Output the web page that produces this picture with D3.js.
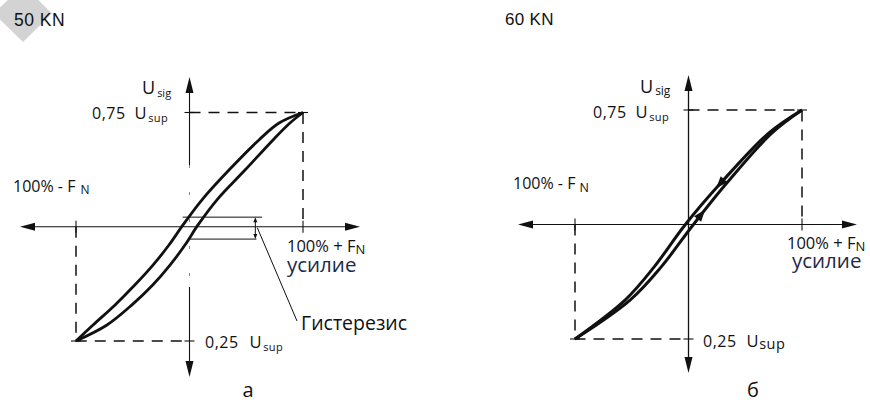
<!DOCTYPE html>
<html><head><meta charset="utf-8">
<script src="https://cdn.jsdelivr.net/npm/d3@7"></script>
<style>body{margin:0;background:#fff}svg{display:block}text{font-family:"Open Sans",sans-serif;fill:#111}</style>
</head><body><svg id="c" width="870" height="402"></svg>
<script>
// ---- data ----
const forceDomain = [-100, 100];          // % of nominal force F_N
const signalDomain = [0.25, 0.75];        // fraction of U_sup
const panelTitles = ["50 KN", "60 KN"];
const panelLetters = ["а", "б"];
// panel a: wide hysteresis loop
const loopSignalA  = [0.25, 0.285, 0.329, 0.373, 0.416, 0.460, 0.504, 0.559, 0.624, 0.690, 0.727, 0.75];
const unloadForceA = [-100, -85.0, -65.6, -48.0, -32.2, -18.1, -5.7, 11.0, 34.8, 61.2, 78.9, 100];
const loadForceA   = [-100, -72.7, -50.7, -32.2, -17.2, -4.0, 7.5, 24.2, 48.9, 73.6, 88.5, 100];
// panel b: narrow loop
const loopSignalB  = [0.25, 0.335, 0.407, 0.499, 0.591, 0.700, 0.75];
const unloadForceB = [-100, -55.9, -30.4, -3.1, 28.6, 70.9, 100];
const loadForceB   = [-100, -51.5, -24.2, 4.0, 33.9, 73.6, 100];
// hysteresis marker (panel a): signal levels and force spans
const hystSignal = [0.521, 0.473];
const hystForceSpan = [[-6, 64], [-1, 59]];

const svg = d3.select("#c");

// grey corner badge
svg.append("polygon").attr("points", "-6,13.5 23,-15 52,13.5 23,42").attr("fill", "#d3d3d3");

function arrowHead(g, tipX, tipY, ang, len, half) {
  const bx = tipX - len * Math.cos(ang), by = tipY - len * Math.sin(ang);
  const px = -Math.sin(ang) * half, py = Math.cos(ang) * half;
  g.append("polygon")
    .attr("points", `${tipX},${tipY} ${bx + px},${by + py} ${bx - px},${by - py}`)
    .attr("fill", "#111");
}

function label(g, x, y, parts, opts = {}) {
  const t = g.append("text").attr("x", x).attr("y", y)
    .attr("text-anchor", opts.anchor || "start");
  if (opts.family) t.style("font-family", opts.family);
  if (opts.fill) t.style("fill", opts.fill);
  if (opts.ls) t.attr("letter-spacing", opts.ls);
  let prevDy = 0;
  parts.forEach(p => {
    const s = t.append("tspan").attr("font-size", p.size).text(p.t);
    const dy = (p.dy || 0) - prevDy;
    if (dy) s.attr("dy", dy);
    if (p.dx) s.attr("dx", p.dx);
    prevDy = p.dy || 0;
  });
  return t;
}

const panels = [
  { title: panelTitles[0], letter: panelLetters[0], sig: loopSignalA, unload: unloadForceA, load: loadForceA,
    xr: [76, 303], yr: [341, 112.5], hx: [20, 360], vy: [77, 377], left: true },
  { title: panelTitles[1], letter: panelLetters[1], sig: loopSignalB, unload: unloadForceB, load: loadForceB,
    xr: [575, 802], yr: [339, 110], hx: [518, 857], vy: [75, 373], left: false }
];

panels.forEach((p, i) => {
  const g = svg.append("g");
  const x = d3.scaleLinear().domain(forceDomain).range(p.xr);
  const y = d3.scaleLinear().domain(signalDomain).range(p.yr);
  const x0 = x(0), y0 = y(0.5);

  // axes
  g.append("line").attr("x1", p.hx[0] + 8).attr("x2", p.hx[1] - 8).attr("y1", y0).attr("y2", y0)
    .attr("stroke", "#111").attr("stroke-width", 1.2);
  arrowHead(g, p.hx[0], y0, Math.PI, 15, 4);
  arrowHead(g, p.hx[1], y0, 0, 15, 4);
  if (p.left) {
    g.append("line").attr("x1", x0).attr("x2", x0).attr("y1", p.vy[0] + 8).attr("y2", 165)
      .attr("stroke", "#111").attr("stroke-width", 1.1);
    g.append("line").attr("x1", x0).attr("x2", x0).attr("y1", 165).attr("y2", 287)
      .attr("stroke", "#888").attr("stroke-width", 1).attr("stroke-dasharray", "3,24");
    g.append("line").attr("x1", x0).attr("x2", x0).attr("y1", 287).attr("y2", p.vy[1] - 8)
      .attr("stroke", "#111").attr("stroke-width", 1.1);
  } else {
    g.append("line").attr("x1", x0).attr("x2", x0).attr("y1", p.vy[0] + 8).attr("y2", p.vy[1] - 8)
      .attr("stroke", "#111").attr("stroke-width", 1.3);
  }
  arrowHead(g, x0, p.vy[0], -Math.PI / 2, 16, 4);
  arrowHead(g, x0, p.vy[1], Math.PI / 2, 16, 4);

  // dashed limits
  const dl = (pts) => g.append("path").attr("d", d3.line()(pts))
    .attr("stroke", "#111").attr("stroke-width", 1.5).attr("stroke-dasharray", "11,8").attr("fill", "none");
  dl([[x0, y(0.75)], [x(100), y(0.75)], [x(100), y0]]);
  dl([[x(-100), y0], [x(-100), y(0.25)], [x0, y(0.25)]]);
  const tk = (x1, y1, x2, y2) => g.append("line").attr("x1", x1).attr("y1", y1).attr("x2", x2).attr("y2", y2)
    .attr("stroke", "#111").attr("stroke-width", 1.1);
  tk(x(100), y0 - 6, x(100), y0 + 6);
  tk(x(-100), y0 - 6, x(-100), y0 + 6);
  tk(x0 - 5, y(0.75), x0 + 5, y(0.75));
  tk(x0 - 5, y(0.25), x0 + 5, y(0.25));
  tk(x(100) - 5, y(0.75), x(100) + 5, y(0.75));
  tk(x(-100) - 5, y(0.25), x(-100) + 5, y(0.25));

  // loop curves
  const line = d3.line().x(d => x(d[0])).y(d => y(d[1])).curve(d3.curveCatmullRom.alpha(0.5));
  const up = p.unload.map((f, k) => [f, p.sig[k]]);
  const lo = p.load.map((f, k) => [f, p.sig[k]]);
  const sw = p.left ? 2.8 : 3;
  const pu = g.append("path").attr("d", line(up)).attr("fill", "none").attr("stroke", "#111").attr("stroke-width", sw);
  const pl = g.append("path").attr("d", line(lo)).attr("fill", "none").attr("stroke", "#111").attr("stroke-width", sw);

  if (!p.left) {
    const along = (path, frac, dir) => {
      const n = path.node(), L = n.getTotalLength();
      const a = n.getPointAtLength(L * frac), b = n.getPointAtLength(L * frac + 2);
      let ang = Math.atan2(b.y - a.y, b.x - a.x);
      if (dir < 0) ang += Math.PI;
      arrowHead(g, a.x, a.y, ang, 12, 4.5);
    };
    along(pu, 0.64, -1);
    along(pl, 0.57, 1);
  } else {
    hystSignal.forEach((s, k) => {
      g.append("line").attr("x1", x(hystForceSpan[k][0])).attr("x2", x(hystForceSpan[k][1]))
        .attr("y1", y(s)).attr("y2", y(s)).attr("stroke", "#111").attr("stroke-width", 1);
    });
    const ax = x(58);
    g.append("line").attr("x1", ax).attr("x2", ax).attr("y1", y(hystSignal[0]) + 4).attr("y2", y(hystSignal[1]) - 4)
      .attr("stroke", "#111").attr("stroke-width", 1);
    arrowHead(g, ax, y(hystSignal[0]), -Math.PI / 2, 5, 2);
    arrowHead(g, ax, y(hystSignal[1]), Math.PI / 2, 5, 2);
    g.append("line").attr("x1", ax + 2).attr("y1", y0 + 1).attr("x2", 297).attr("y2", 321)
      .attr("stroke", "#111").attr("stroke-width", 1);
    label(g, 301, 330, [{ t: "Гистерезис", size: 19.5 }]);
  }

  // labels
  const lf = "'Liberation Sans', Arial, sans-serif";
  if (p.left) {
    label(g, 14, 26, [{ t: p.title, size: 17.5 }], { family: lf, ls: 0.5 });
    label(g, 142, 94, [{ t: "U", size: 18 }, { t: "sig", size: 11, dy: 3, dx: 2 }]);
    label(g, 92, 119, [{ t: "0,75", size: 16 }, { t: "U", size: 16.5, dx: 9 }, { t: "sup", size: 11, dy: 3, dx: 1 }], { ls: 0.5 });
    label(g, 13, 192, [{ t: "100% - F", size: 16 }, { t: "N", size: 12, dy: 2, dx: 5 }]);
    label(g, 287, 252, [{ t: "100% + F", size: 16.5 }, { t: "N", size: 13, dy: 2 }]);
    label(g, 287, 272, [{ t: "усилие", size: 20.5 }], { fill: "#1d2a48" });
    label(g, 205, 348, [{ t: "0,25", size: 16 }, { t: "U", size: 16.5, dx: 11 }, { t: "sup", size: 11, dy: 3, dx: 1 }], { ls: 0.5 });
    label(g, 248, 397, [{ t: p.letter, size: 20 }], { anchor: "middle" });
  } else {
    label(g, 505, 25, [{ t: p.title, size: 17 }], { family: lf, ls: 0.3 });
    label(g, 640, 93, [{ t: "U", size: 18 }, { t: "sig", size: 12, dy: 2, dx: 2 }]);
    label(g, 593, 118, [{ t: "0,75", size: 16 }, { t: "U", size: 16.5, dx: 9 }, { t: "sup", size: 11, dy: 3, dx: 1 }], { ls: 0.5 });
    label(g, 513, 189, [{ t: "100% - F", size: 16 }, { t: "N", size: 12.5, dy: 3, dx: 4 }]);
    label(g, 787, 249, [{ t: "100% + F", size: 16.5 }, { t: "N", size: 13, dy: 2 }]);
    label(g, 792, 268, [{ t: "усилие", size: 20.5 }], { fill: "#1d2a48" });
    label(g, 703, 347, [{ t: "0,25", size: 16 }, { t: "U", size: 16.5, dx: 10 }, { t: "sup", size: 14.5, dy: 2 }], { ls: 0.5 });
    label(g, 753, 397, [{ t: p.letter, size: 20 }], { anchor: "middle" });
  }
});
</script>
</body></html>
